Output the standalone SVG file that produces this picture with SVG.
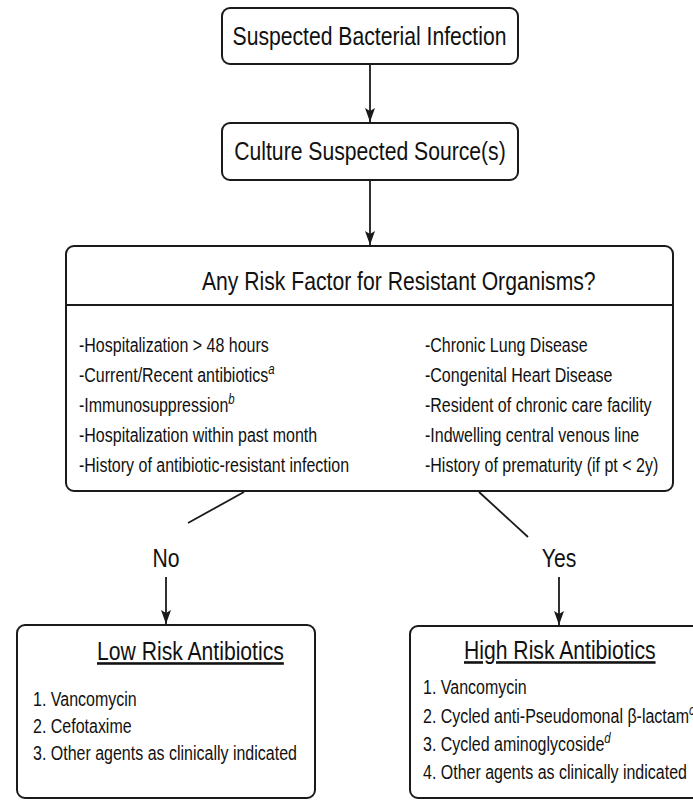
<svg xmlns="http://www.w3.org/2000/svg" width="693" height="805" viewBox="0 0 693 805">
<style>
.box{fill:#fff;stroke:#1a1a1a;stroke-width:2}
.ln{fill:none;stroke:#1a1a1a;stroke-width:1.8}
.t{font-family:"Liberation Sans",Arial,sans-serif;fill:#111}
.big{font-size:25.8px}
.sm{font-size:19.5px}
.sup{font-size:14px;font-style:italic}
.mid{text-anchor:middle}
.ul{text-decoration:underline}
</style>
<defs>
<marker id="ah" viewBox="0 0 14 10" refX="14" refY="5" markerWidth="14" markerHeight="10" markerUnits="userSpaceOnUse" orient="auto">
<path d="M0,0 L14,5 L0,10 L3,5 z" fill="#1a1a1a"/>
</marker>
</defs>
<rect width="693" height="805" fill="#fff"/>
<g id="connectors">
<line class="ln" x1="370" y1="64" x2="370" y2="122" marker-end="url(#ah)"/>
<line class="ln" x1="370" y1="180" x2="370" y2="245" marker-end="url(#ah)"/>
<line class="ln" x1="244" y1="492" x2="188" y2="523"/>
<line class="ln" x1="479" y1="492" x2="528" y2="537"/>
<line class="ln" x1="166" y1="577" x2="166" y2="624" marker-end="url(#ah)"/>
<line class="ln" x1="559" y1="577" x2="559" y2="625" marker-end="url(#ah)"/>
<text class="t big mid" transform="translate(166,567) scale(0.82,1)">No</text>
<text class="t big mid" transform="translate(559,567) scale(0.82,1)">Yes</text>
</g>
<g id="suspected">
<rect class="box" x="222" y="8" width="296" height="56" rx="8"/>
<text class="t big mid" transform="translate(369.5,45) scale(0.82,1)">Suspected Bacterial Infection</text>
</g>
<g id="culture">
<rect class="box" x="222" y="123" width="296" height="57" rx="8"/>
<text class="t big mid" transform="translate(370,160) scale(0.82,1)">Culture Suspected Source(s)</text>
</g>
<g id="riskfactors">
<rect class="box" x="66" y="246" width="607" height="245" rx="8"/>
<line class="ln" x1="66" y1="305" x2="673" y2="305" style="stroke-width:2"/>
<text class="t big" transform="translate(202,290) scale(0.82,1)">Any Risk Factor for Resistant Organisms?</text>
<text class="t sm" transform="translate(79,352) scale(0.82,1)">-Hospitalization &gt; 48 hours</text>
<text class="t sm" transform="translate(79,382) scale(0.82,1)">-Current/Recent antibiotics<tspan class="sup" dy="-8">a</tspan></text>
<text class="t sm" transform="translate(79,412) scale(0.82,1)">-Immunosuppression<tspan class="sup" dy="-8">b</tspan></text>
<text class="t sm" transform="translate(79,442) scale(0.82,1)">-Hospitalization within past month</text>
<text class="t sm" transform="translate(79,472) scale(0.82,1)">-History of antibiotic-resistant infection</text>
<text class="t sm" transform="translate(425,352) scale(0.82,1)">-Chronic Lung Disease</text>
<text class="t sm" transform="translate(425,382) scale(0.82,1)">-Congenital Heart Disease</text>
<text class="t sm" transform="translate(425,412) scale(0.82,1)">-Resident of chronic care facility</text>
<text class="t sm" transform="translate(425,442) scale(0.82,1)">-Indwelling central venous line</text>
<text class="t sm" transform="translate(425,472) scale(0.82,1)">-History of prematurity (if pt &lt; 2y)</text>
</g>
<g id="lowrisk">
<rect class="box" x="17" y="625" width="298" height="173" rx="8"/>
<text class="t big ul" transform="translate(97,660) scale(0.82,1)">Low Risk Antibiotics</text>
<text class="t sm" transform="translate(33,706) scale(0.82,1)">1. Vancomycin</text>
<text class="t sm" transform="translate(33,733) scale(0.82,1)">2. Cefotaxime</text>
<text class="t sm" transform="translate(33,760) scale(0.82,1)">3. Other agents as clinically indicated</text>
</g>
<g id="highrisk">
<rect class="box" x="410" y="626" width="320" height="172" rx="8"/>
<text class="t big ul" transform="translate(464,659) scale(0.82,1)">High Risk Antibiotics</text>
<text class="t sm" transform="translate(423,694) scale(0.82,1)">1. Vancomycin</text>
<text class="t sm" transform="translate(423,722.5) scale(0.82,1)">2. Cycled anti-Pseudomonal β-lactam<tspan class="sup" dy="-8">c</tspan></text>
<text class="t sm" transform="translate(423,751) scale(0.82,1)">3. Cycled aminoglycoside<tspan class="sup" dy="-8">d</tspan></text>
<text class="t sm" transform="translate(423,779) scale(0.82,1)">4. Other agents as clinically indicated</text>
</g>
</svg>
